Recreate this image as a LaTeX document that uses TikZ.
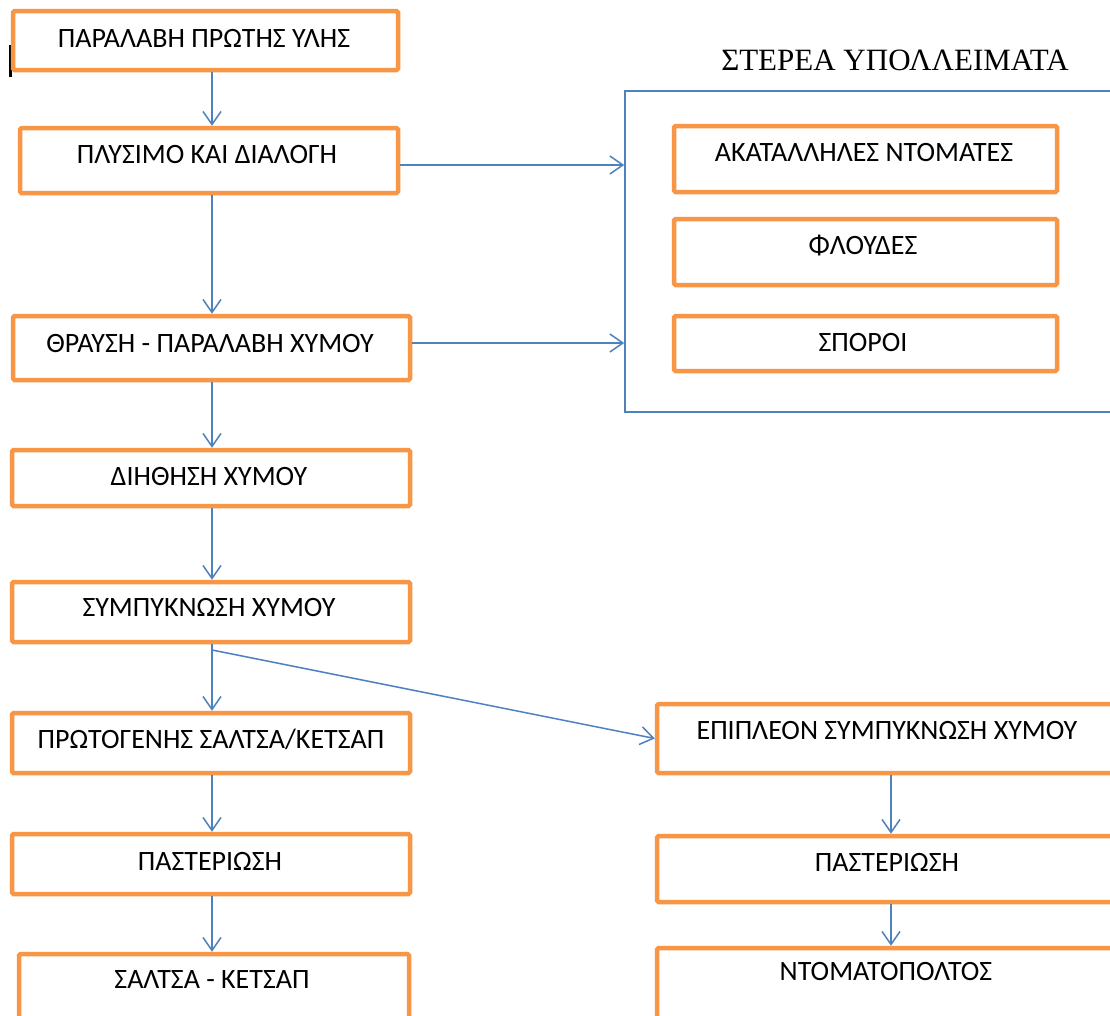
\documentclass[tikz,border=0pt]{standalone}
\usepackage{fontspec}
\setmainfont{Carlito}
\newfontfamily\titlefont{Liberation Serif}
\usetikzlibrary{arrows.meta,fit}
\definecolor{boxorange}{HTML}{F79646}
\definecolor{linkblue}{HTML}{4F81BD}
\tikzset{
  obox/.style={draw=boxorange, line width=4.5pt, rounded corners=1.5pt, inner sep=0pt, fill=white},
  gbox/.style={draw=linkblue, line width=1.6pt, inner sep=0pt},
  lbl/.style={anchor=base, inner sep=0pt, font=\fontsize{28}{33}\selectfont, text=black},
  flow/.style={draw=linkblue, line width=1.5pt, -{Straight Barb[length=13pt,width=18pt]}},
}
\begin{document}
\begin{tikzpicture}[x=1pt,y=-1pt]
\clip (0,0) rectangle (1110,1015);
\fill[white] (0,0) rectangle (1110,1015);

% cursor mark at the top left
\draw[line width=3pt, black] (10,45) -- (10,77);

% main process column
\node[obox, fit={(13,11)(398,70)}]   (b1) {};
\node[obox, fit={(20,128)(398,193)}] (b2) {};
\node[obox, fit={(13,316)(410,380)}] (b3) {};
\node[obox, fit={(12,450)(410,506)}] (b4) {};
\node[obox, fit={(12,582)(410,642)}] (b5) {};
\node[obox, fit={(12,713)(410,773)}] (b6) {};
\node[obox, fit={(12,834)(410,894)}] (b7) {};
\node[obox, fit={(19,954)(409,1040)}] (b8) {};

\node[lbl] (t1) at (204,47)  {ΠΑΡΑΛΑΒΗ ΠΡΩΤΗΣ ΥΛΗΣ};
\node[lbl] (t2) at (207,163) {ΠΛΥΣΙΜΟ ΚΑΙ ΔΙΑΛΟΓΗ};
\node[lbl] (t3) at (210,352) {ΘΡΑΥΣΗ - ΠΑΡΑΛΑΒΗ ΧΥΜΟΥ};
\node[lbl] (t4) at (209,485) {ΔΙΗΘΗΣΗ ΧΥΜΟΥ};
\node[lbl] (t5) at (209,616) {ΣΥΜΠΥΚΝΩΣΗ ΧΥΜΟΥ};
\node[lbl] (t6) at (211,748) {ΠΡΩΤΟΓΕΝΗΣ ΣΑΛΤΣΑ/ΚΕΤΣΑΠ};
\node[lbl] (t7) at (210,870) {ΠΑΣΤΕΡΙΩΣΗ};
\node[lbl] (t8) at (212,988) {ΣΑΛΤΣΑ - ΚΕΤΣΑΠ};

% solid residues group
\node[gbox, fit={(625,91)(1125,412)}] (grp) {};
\node[anchor=base, inner sep=0pt, font=\titlefont\fontsize{31}{37}\selectfont] (gt) at (895,70) {ΣΤΕΡΕΑ ΥΠΟΛΛΕΙΜΑΤΑ};
\node[obox, fit={(674,126)(1057,192)}] (ra) {};
\node[obox, fit={(674,219)(1057,285)}] (rb) {};
\node[obox, fit={(674,316)(1057,371)}] (rc) {};
\node[lbl] (tra) at (864,161) {ΑΚΑΤΑΛΛΗΛΕΣ ΝΤΟΜΑΤΕΣ};
\node[lbl] (trb) at (863,254) {ΦΛΟΥΔΕΣ};
\node[lbl] (trc) at (863,351) {ΣΠΟΡΟΙ};

% tomato paste branch
\node[obox, fit={(657,704)(1125,773)}]  (r1) {};
\node[obox, fit={(657,836)(1125,902)}]  (r2) {};
\node[obox, fit={(657,948)(1125,1040)}] (r3) {};
\node[lbl] (tr1) at (887,739) {ΕΠΙΠΛΕΟΝ ΣΥΜΠΥΚΝΩΣΗ ΧΥΜΟΥ};
\node[lbl] (tr2) at (887,871) {ΠΑΣΤΕΡΙΩΣΗ};
\node[lbl] (tr3) at (886,980) {ΝΤΟΜΑΤΟΠΟΛΤΟΣ};

% connector columns
\coordinate (lc) at (212,0);
\coordinate (rcol) at (891,0);
\coordinate (split) at (212,650);

% connectors of the main column
\draw[flow] (b1.south -| lc) -- (b2.north -| lc);
\draw[flow] (b2.south -| lc) -- (b3.north -| lc);
\draw[flow] (b3.south -| lc) -- (b4.north -| lc);
\draw[flow] (b4.south -| lc) -- (b5.north -| lc);
\draw[flow] (b5.south -| lc) -- (b6.north -| lc);
\draw[flow] (b6.south -| lc) -- (b7.north -| lc);
\draw[flow] (b7.south -| lc) -- (b8.north -| lc);

% connectors to the residues group
\draw[flow] ([yshift=-4.5pt]b2.east) -- ([yshift=-4.5pt]b2.east -| grp.west);
\draw[flow] ([yshift=5pt]b3.east) -- ([yshift=5pt]b3.east -| grp.west);

% branch to further concentration
\draw[flow] (split) -- (r1.west);
\draw[flow] (r1.south -| rcol) -- (r2.north -| rcol);
\draw[flow] (r2.south -| rcol) -- (r3.north -| rcol);
\end{tikzpicture}
\end{document}
